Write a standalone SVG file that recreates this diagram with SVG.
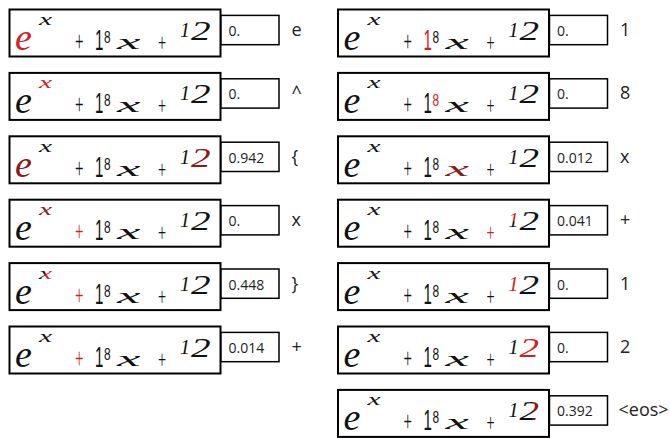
<svg xmlns="http://www.w3.org/2000/svg" width="670" height="438" viewBox="0 0 670 438">
<style>
.box{fill:#fff;stroke:#000;stroke-width:2}
.sb{fill:#fff;stroke:#000;stroke-width:1.5}
.hw{font-family:"Liberation Serif",serif;fill:#111}
.sn{font-family:"Liberation Sans",sans-serif;fill:#111}
.it{font-style:italic}
.num{font-family:"Open Sans","Liberation Sans",sans-serif;font-size:14px;fill:#222}
.lab{font-family:"Open Sans","Liberation Sans",sans-serif;font-size:18px;fill:#222}
.r{fill:#d42020}
.d{fill:#8b1a1a}
</style>
<defs>
<linearGradient id="gx" x1="0" y1="0" x2="1" y2="0"><stop offset="0.45" stop-color="#111"/><stop offset="0.55" stop-color="#d42020"/></linearGradient>
<linearGradient id="g1" x1="0" y1="0" x2="0" y2="1"><stop offset="0.5" stop-color="#d42020"/><stop offset="0.6" stop-color="#111"/></linearGradient>
<linearGradient id="g2" x1="0" y1="0" x2="1" y2="0"><stop offset="0.6" stop-color="#111"/><stop offset="0.72" stop-color="#8b1a1a"/></linearGradient>
</defs>

<!-- Left column -->
<g id="l1" transform="translate(9,9)">
<rect class="box" x="0.5" y="0.5" width="211" height="47"/>
<rect class="sb" x="212" y="6.4" width="58" height="29.3"/>
<text class="hw it r" transform="translate(6,41)" font-size="38">e</text>
<text class="hw it" transform="translate(30,16) scale(1.4,0.75)" font-size="21">x</text>
<text class="hw" transform="translate(66,42) scale(0.5,1)" font-size="30">+</text>
<text class="sn" transform="translate(86,41) scale(0.5,1)" font-size="30">1</text>
<text class="sn" transform="translate(95,34) scale(0.7,1)" font-size="17">8</text>
<text class="hw it" transform="translate(108,40) scale(1.7,0.68)" font-size="31">x</text>
<text class="hw" transform="translate(149,42) scale(0.55,1)" font-size="26">+</text>
<text class="hw it" transform="translate(171,28)" font-size="20">1</text>
<text class="hw it" transform="translate(182,31) scale(1.4,1)" font-size="28">2</text>
<text class="num" x="219.5" y="27">0.</text>
<text class="lab" x="282.5" y="27">e</text>
</g>

<g id="l2" transform="translate(9,72.4)">
<rect class="box" x="0.5" y="0.5" width="211" height="47"/>
<rect class="sb" x="212" y="6.4" width="58" height="29.3"/>
<text class="hw it" transform="translate(6,41)" font-size="38">e</text>
<text class="hw it r" transform="translate(30,16) scale(1.4,0.75)" font-size="21">x</text>
<text class="hw" transform="translate(66,42) scale(0.5,1)" font-size="30">+</text>
<text class="sn" transform="translate(86,41) scale(0.5,1)" font-size="30">1</text>
<text class="sn" transform="translate(95,34) scale(0.7,1)" font-size="17">8</text>
<text class="hw it" transform="translate(108,40) scale(1.7,0.68)" font-size="31">x</text>
<text class="hw" transform="translate(149,42) scale(0.55,1)" font-size="26">+</text>
<text class="hw it" transform="translate(171,28)" font-size="20">1</text>
<text class="hw it" transform="translate(182,31) scale(1.4,1)" font-size="28">2</text>
<text class="num" x="219.5" y="27">0.</text>
<text class="lab" x="282.5" y="27">^</text>
</g>

<g id="l3" transform="translate(9,135.8)">
<rect class="box" x="0.5" y="0.5" width="211" height="47"/>
<rect class="sb" x="212" y="6.4" width="58" height="29.3"/>
<text class="hw it d" transform="translate(6,41)" font-size="38">e</text>
<text class="hw it" transform="translate(30,16) scale(1.4,0.75)" font-size="21">x</text>
<text class="hw" transform="translate(66,42) scale(0.5,1)" font-size="30">+</text>
<text class="sn" transform="translate(86,41) scale(0.5,1)" font-size="30">1</text>
<text class="sn" transform="translate(95,34) scale(0.7,1)" font-size="17">8</text>
<text class="hw it" transform="translate(108,40) scale(1.7,0.68)" font-size="31">x</text>
<text class="hw" transform="translate(149,42) scale(0.55,1)" font-size="26">+</text>
<text class="hw it" transform="translate(171,28)" font-size="20">1</text>
<text class="hw it d" transform="translate(182,31) scale(1.4,1)" font-size="28">2</text>
<text class="num" x="219.5" y="27">0.942</text>
<text class="lab" x="282.5" y="27">{</text>
</g>

<g id="l4" transform="translate(9,199.2)">
<rect class="box" x="0.5" y="0.5" width="211" height="47"/>
<rect class="sb" x="212" y="6.4" width="58" height="29.3"/>
<text class="hw it" transform="translate(6,41)" font-size="38">e</text>
<text class="hw it d" transform="translate(30,16) scale(1.4,0.75)" font-size="21">x</text>
<text class="hw r" transform="translate(66,42) scale(0.5,1)" font-size="30">+</text>
<text class="sn" transform="translate(86,41) scale(0.5,1)" font-size="30">1</text>
<text class="sn" transform="translate(95,34) scale(0.7,1)" font-size="17">8</text>
<text class="hw it" transform="translate(108,40) scale(1.7,0.68)" font-size="31">x</text>
<text class="hw" transform="translate(149,42) scale(0.55,1)" font-size="26">+</text>
<text class="hw it" transform="translate(171,28)" font-size="20">1</text>
<text class="hw it" transform="translate(182,31) scale(1.4,1)" font-size="28">2</text>
<text class="num" x="219.5" y="27">0.</text>
<text class="lab" x="282.5" y="27">x</text>
</g>

<g id="l5" transform="translate(9,262.6)">
<rect class="box" x="0.5" y="0.5" width="211" height="47"/>
<rect class="sb" x="212" y="6.4" width="58" height="29.3"/>
<text class="hw it" transform="translate(6,41)" font-size="38">e</text>
<text class="hw it" transform="translate(30,16) scale(1.4,0.75)" font-size="21" style="fill:url(#gx)">x</text>
<text class="hw r" transform="translate(66,42) scale(0.5,1)" font-size="30">+</text>
<text class="sn" transform="translate(86,41) scale(0.5,1)" font-size="30">1</text>
<text class="sn" transform="translate(95,34) scale(0.7,1)" font-size="17">8</text>
<text class="hw it" transform="translate(108,40) scale(1.7,0.68)" font-size="31">x</text>
<text class="hw" transform="translate(149,42) scale(0.55,1)" font-size="26">+</text>
<text class="hw it" transform="translate(171,28)" font-size="20">1</text>
<text class="hw it" transform="translate(182,31) scale(1.4,1)" font-size="28">2</text>
<text class="num" x="219.5" y="27">0.448</text>
<text class="lab" x="282.5" y="27">}</text>
</g>

<g id="l6" transform="translate(9,326)">
<rect class="box" x="0.5" y="0.5" width="211" height="47"/>
<rect class="sb" x="212" y="6.4" width="58" height="29.3"/>
<text class="hw it" transform="translate(6,41)" font-size="38">e</text>
<text class="hw it" transform="translate(30,16) scale(1.4,0.75)" font-size="21">x</text>
<text class="hw r" transform="translate(66,42) scale(0.5,1)" font-size="30">+</text>
<text class="sn" transform="translate(86,41) scale(0.5,1)" font-size="30">1</text>
<text class="sn" transform="translate(95,34) scale(0.7,1)" font-size="17">8</text>
<text class="hw it" transform="translate(108,40) scale(1.7,0.68)" font-size="31">x</text>
<text class="hw" transform="translate(149,42) scale(0.55,1)" font-size="26">+</text>
<text class="hw it" transform="translate(171,28)" font-size="20">1</text>
<text class="hw it" transform="translate(182,31) scale(1.4,1)" font-size="28">2</text>
<text class="num" x="219.5" y="27">0.014</text>
<text class="lab" x="282.5" y="27">+</text>
</g>

<!-- Right column -->
<g id="r1" transform="translate(337.5,9)">
<rect class="box" x="0.5" y="0.5" width="211" height="47"/>
<rect class="sb" x="212" y="6.4" width="58" height="29.3"/>
<text class="hw it" transform="translate(6,41)" font-size="38">e</text>
<text class="hw it" transform="translate(30,16) scale(1.4,0.75)" font-size="21">x</text>
<text class="hw" transform="translate(66,42) scale(0.5,1)" font-size="30">+</text>
<text class="sn r" transform="translate(86,41) scale(0.5,1)" font-size="30">1</text>
<text class="sn" transform="translate(95,34) scale(0.7,1)" font-size="17">8</text>
<text class="hw it" transform="translate(108,40) scale(1.7,0.68)" font-size="31">x</text>
<text class="hw" transform="translate(149,42) scale(0.55,1)" font-size="26">+</text>
<text class="hw it" transform="translate(171,28)" font-size="20">1</text>
<text class="hw it" transform="translate(182,31) scale(1.4,1)" font-size="28">2</text>
<text class="num" x="219.5" y="27">0.</text>
<text class="lab" x="282.5" y="27">1</text>
</g>

<g id="r2" transform="translate(337.5,72.4)">
<rect class="box" x="0.5" y="0.5" width="211" height="47"/>
<rect class="sb" x="212" y="6.4" width="58" height="29.3"/>
<text class="hw it" transform="translate(6,41)" font-size="38">e</text>
<text class="hw it" transform="translate(30,16) scale(1.4,0.75)" font-size="21">x</text>
<text class="hw" transform="translate(66,42) scale(0.5,1)" font-size="30">+</text>
<text class="sn" transform="translate(86,41) scale(0.5,1)" font-size="30">1</text>
<text class="sn r" transform="translate(95,34) scale(0.7,1)" font-size="17">8</text>
<text class="hw it" transform="translate(108,40) scale(1.7,0.68)" font-size="31">x</text>
<text class="hw" transform="translate(149,42) scale(0.55,1)" font-size="26">+</text>
<text class="hw it" transform="translate(171,28)" font-size="20">1</text>
<text class="hw it" transform="translate(182,31) scale(1.4,1)" font-size="28">2</text>
<text class="num" x="219.5" y="27">0.</text>
<text class="lab" x="282.5" y="27">8</text>
</g>

<g id="r3" transform="translate(337.5,135.8)">
<rect class="box" x="0.5" y="0.5" width="211" height="47"/>
<rect class="sb" x="212" y="6.4" width="58" height="29.3"/>
<text class="hw it" transform="translate(6,41)" font-size="38">e</text>
<text class="hw it" transform="translate(30,16) scale(1.4,0.75)" font-size="21">x</text>
<text class="hw" transform="translate(66,42) scale(0.5,1)" font-size="30">+</text>
<text class="sn" transform="translate(86,41) scale(0.5,1)" font-size="30">1</text>
<text class="sn" transform="translate(95,34) scale(0.7,1)" font-size="17">8</text>
<text class="hw it d" transform="translate(108,40) scale(1.7,0.68)" font-size="31">x</text>
<text class="hw" transform="translate(149,42) scale(0.55,1)" font-size="26">+</text>
<text class="hw it" transform="translate(171,28)" font-size="20">1</text>
<text class="hw it" transform="translate(182,31) scale(1.4,1)" font-size="28">2</text>
<text class="num" x="219.5" y="27">0.012</text>
<text class="lab" x="282.5" y="27">x</text>
</g>

<g id="r4" transform="translate(337.5,199.2)">
<rect class="box" x="0.5" y="0.5" width="211" height="47"/>
<rect class="sb" x="212" y="6.4" width="58" height="29.3"/>
<text class="hw it" transform="translate(6,41)" font-size="38">e</text>
<text class="hw it" transform="translate(30,16) scale(1.4,0.75)" font-size="21">x</text>
<text class="hw" transform="translate(66,42) scale(0.5,1)" font-size="30">+</text>
<text class="sn" transform="translate(86,41) scale(0.5,1)" font-size="30">1</text>
<text class="sn" transform="translate(95,34) scale(0.7,1)" font-size="17">8</text>
<text class="hw it" transform="translate(108,40) scale(1.7,0.68)" font-size="31">x</text>
<text class="hw r" transform="translate(149,42) scale(0.55,1)" font-size="26">+</text>
<text class="hw it" transform="translate(171,28)" font-size="20" style="fill:url(#g1)">1</text>
<text class="hw it" transform="translate(182,31) scale(1.4,1)" font-size="28">2</text>
<text class="num" x="219.5" y="27">0.041</text>
<text class="lab" x="282.5" y="27">+</text>
</g>

<g id="r5" transform="translate(337.5,262.6)">
<rect class="box" x="0.5" y="0.5" width="211" height="47"/>
<rect class="sb" x="212" y="6.4" width="58" height="29.3"/>
<text class="hw it" transform="translate(6,41)" font-size="38">e</text>
<text class="hw it" transform="translate(30,16) scale(1.4,0.75)" font-size="21">x</text>
<text class="hw" transform="translate(66,42) scale(0.5,1)" font-size="30">+</text>
<text class="sn" transform="translate(86,41) scale(0.5,1)" font-size="30">1</text>
<text class="sn" transform="translate(95,34) scale(0.7,1)" font-size="17">8</text>
<text class="hw it" transform="translate(108,40) scale(1.7,0.68)" font-size="31">x</text>
<text class="hw" transform="translate(149,42) scale(0.55,1)" font-size="26">+</text>
<text class="hw it r" transform="translate(171,28)" font-size="20">1</text>
<text class="hw it" transform="translate(182,31) scale(1.4,1)" font-size="28">2</text>
<text class="num" x="219.5" y="27">0.</text>
<text class="lab" x="282.5" y="27">1</text>
</g>

<g id="r6" transform="translate(337.5,326)">
<rect class="box" x="0.5" y="0.5" width="211" height="47"/>
<rect class="sb" x="212" y="6.4" width="58" height="29.3"/>
<text class="hw it" transform="translate(6,41)" font-size="38">e</text>
<text class="hw it" transform="translate(30,16) scale(1.4,0.75)" font-size="21">x</text>
<text class="hw" transform="translate(66,42) scale(0.5,1)" font-size="30">+</text>
<text class="sn" transform="translate(86,41) scale(0.5,1)" font-size="30">1</text>
<text class="sn" transform="translate(95,34) scale(0.7,1)" font-size="17">8</text>
<text class="hw it" transform="translate(108,40) scale(1.7,0.68)" font-size="31">x</text>
<text class="hw" transform="translate(149,42) scale(0.55,1)" font-size="26">+</text>
<text class="hw it" transform="translate(171,28)" font-size="20">1</text>
<text class="hw it r" transform="translate(182,31) scale(1.4,1)" font-size="28">2</text>
<text class="num" x="219.5" y="27">0.</text>
<text class="lab" x="282.5" y="27">2</text>
</g>

<g id="r7" transform="translate(337.5,389.4)">
<rect class="box" x="0.5" y="0.5" width="211" height="47"/>
<rect class="sb" x="212" y="6.4" width="58" height="29.3"/>
<text class="hw it" transform="translate(6,41)" font-size="38">e</text>
<text class="hw it" transform="translate(30,16) scale(1.4,0.75)" font-size="21">x</text>
<text class="hw" transform="translate(66,42) scale(0.5,1)" font-size="30">+</text>
<text class="sn" transform="translate(86,41) scale(0.5,1)" font-size="30">1</text>
<text class="sn" transform="translate(95,34) scale(0.7,1)" font-size="17">8</text>
<text class="hw it" transform="translate(108,40) scale(1.7,0.68)" font-size="31">x</text>
<text class="hw" transform="translate(149,42) scale(0.55,1)" font-size="26">+</text>
<text class="hw it" transform="translate(171,28)" font-size="20">1</text>
<text class="hw it" transform="translate(182,31) scale(1.4,1)" font-size="28" style="fill:url(#g2)">2</text>
<text class="num" x="219.5" y="27">0.392</text>
<text class="lab" x="281" y="27">&lt;eos&gt;</text>
</g>
</svg>
